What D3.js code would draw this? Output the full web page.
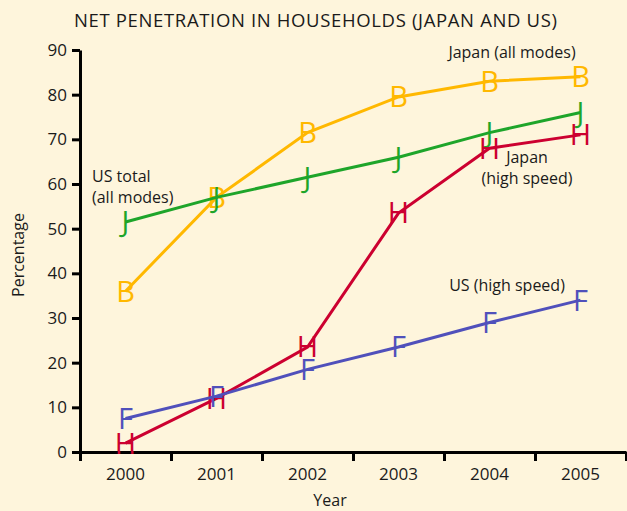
<!DOCTYPE html>
<html>
<head>
<meta charset="utf-8">
<script src="https://cdn.jsdelivr.net/npm/d3@7"></script>
<style>
  body { margin: 0; background: #fef5dc; }
  svg { display: block; font-family: "Open Sans", sans-serif; }
</style>
</head>
<body>
<script>
// data
const years = ["2000", "2001", "2002", "2003", "2004", "2005"];
const yTicks = [0, 10, 20, 30, 40, 50, 60, 70, 80, 90];

const japanAll = [36, 57, 71.5, 79.5, 83, 84];
const usTotal = [51.5, 57, 61.5, 66, 71.5, 76];
const japanHigh = [2, 12, 23.5, 53.5, 68, 71];
const usHigh = [7.5, 12.5, 18.5, 23.5, 29, 34];

const seriesNames = ["Japan (all modes)", "US total", "Japan (high speed)", "US (high speed)"];
const seriesMarks = ["B", "J", "H", "F"];
const seriesColors = ["#ffb800", "#1ea52a", "#cc0030", "#5050bb"];

var width = 627, height = 511;

var svg = d3.select("body")
    .append("svg")
    .attr("width", width)
    .attr("height", height);

svg.append("rect")
    .attr("width", width)
    .attr("height", height)
    .attr("fill", "#fef5dc");

// scales
var x = d3.scaleBand().domain(years).range([80, 626]).padding(0);
var xEdge = d3.scaleLinear().domain([0, years.length]).range([80, 626]);
var y = d3.scaleLinear().domain([0, 90]).range([452, 50]);

// title
svg.append("text")
    .attr("x", 74)
    .attr("y", 27)
    .attr("font-size", 18.5)
    .attr("textLength", 483)
    .attr("fill", "#1a1a1a")
    .text("NET PENETRATION IN HOUSEHOLDS (JAPAN AND US)");

// y axis
var yAxis = svg.append("g")
    .attr("transform", "translate(80,0)")
    .call(d3.axisLeft(y).tickValues(yTicks).tickSize(8).tickSizeOuter(0).tickPadding(5));
yAxis.select(".domain").attr("stroke", "#000").attr("stroke-width", 3);
yAxis.selectAll(".tick line").attr("stroke", "#000").attr("stroke-width", 3);
yAxis.selectAll(".tick text")
    .attr("font-size", 17)
    .attr("font-family", "Open Sans, sans-serif")
    .attr("fill", "#1a1a1a");

// x axis: ticks between the years
var xAxis = svg.append("g")
    .attr("transform", "translate(0,452)")
    .call(d3.axisBottom(xEdge).tickValues(d3.range(0, years.length + 1)).tickSize(9).tickSizeOuter(0).tickFormat(""));
xAxis.select(".domain").attr("stroke", "#000").attr("stroke-width", 3);
xAxis.selectAll(".tick line").attr("stroke", "#000").attr("stroke-width", 3);

var xLabels = svg.append("g")
    .attr("transform", "translate(0,452)")
    .call(d3.axisBottom(x).tickSize(0).tickPadding(16));
xLabels.select(".domain").remove();
xLabels.selectAll(".tick text")
    .attr("font-size", 17)
    .attr("font-family", "Open Sans, sans-serif")
    .attr("fill", "#1a1a1a");

// axis titles
svg.append("text")
    .attr("x", 330)
    .attr("y", 506)
    .attr("text-anchor", "middle")
    .attr("font-size", 16)
    .attr("fill", "#1a1a1a")
    .text("Year");

svg.append("text")
    .attr("transform", "translate(24,255) rotate(-90)")
    .attr("text-anchor", "middle")
    .attr("font-size", 16)
    .attr("fill", "#1a1a1a")
    .text("Percentage");

// lines with letter markers
var allSeries = [japanAll, usTotal, japanHigh, usHigh];

var line = d3.line()
    .x(function (d, i) { return x(years[i]) + x.bandwidth() / 2; })
    .y(function (d) { return y(d); });

allSeries.forEach(function (values, k) {
    var g = svg.append("g").attr("class", "series");
    g.append("path")
        .datum(values)
        .attr("d", line)
        .attr("fill", "none")
        .attr("stroke", seriesColors[k])
        .attr("stroke-width", 3);
    g.selectAll("text")
        .data(values)
        .enter().append("text")
        .attr("x", function (d, i) { return x(years[i]) + x.bandwidth() / 2; })
        .attr("y", function (d) { return y(d); })
        .attr("dy", "0.36em")
        .attr("text-anchor", "middle")
        .attr("font-size", 29)
        .attr("fill", seriesColors[k])
        .text(seriesMarks[k]);
});

// series labels
function label(lines, xPos, yPos, anchor) {
    var t = svg.append("text")
        .attr("font-size", 16)
        .attr("fill", "#1a1a1a")
        .attr("text-anchor", anchor);
    lines.forEach(function (s, i) {
        t.append("tspan")
            .attr("x", xPos)
            .attr("y", yPos + i * 21)
            .text(s);
    });
}

label(["Japan (all modes)"], 512, 58, "middle");
label(["US total", "(all modes)"], 92, 182, "start");
label(["Japan", "(high speed)"], 527, 163, "middle");
label(["US (high speed)"], 507, 291, "middle");
</script>
</body>
</html>
